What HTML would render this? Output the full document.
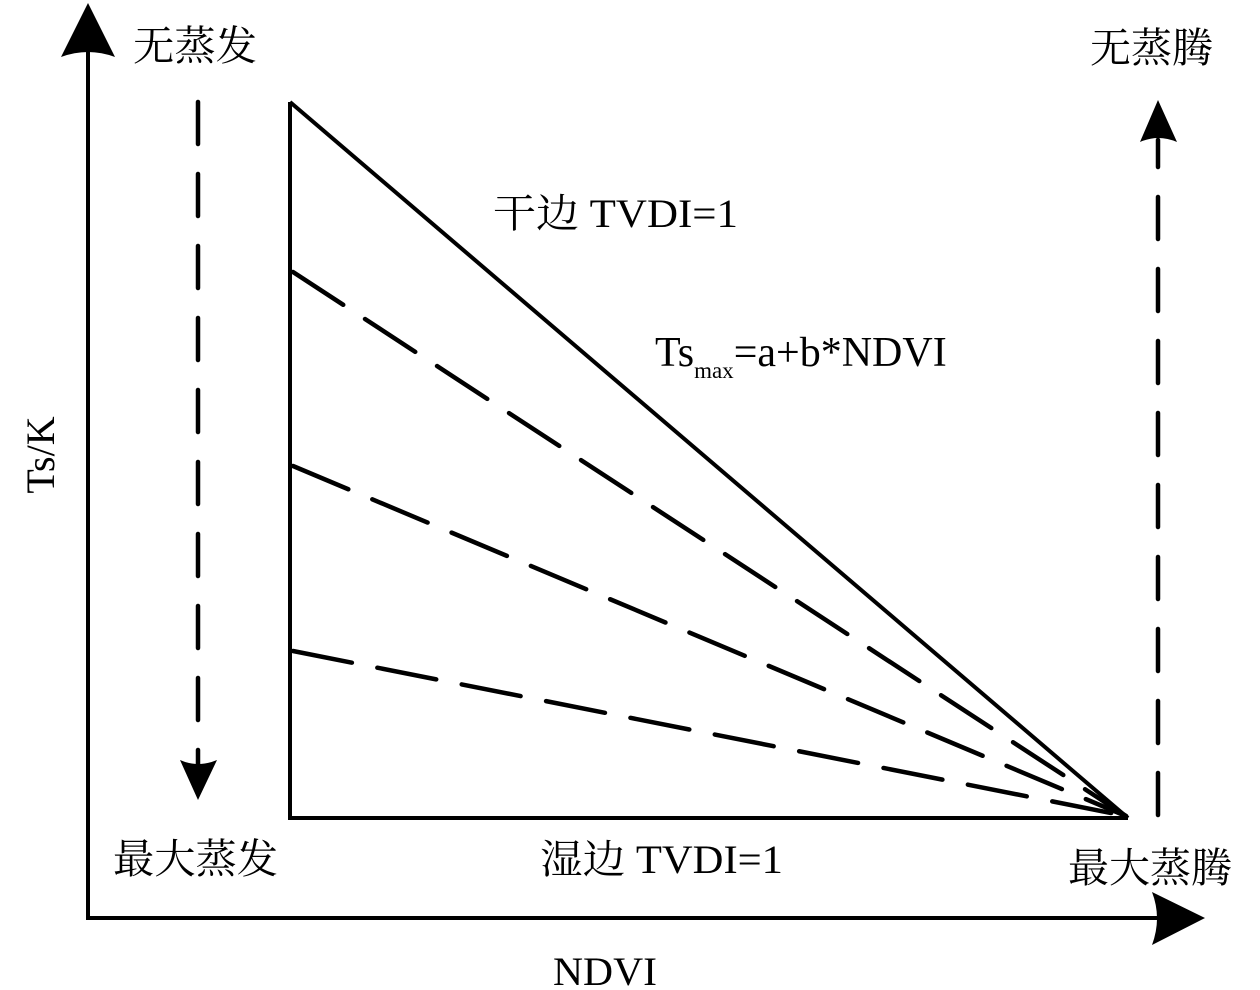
<!DOCTYPE html>
<html><head><meta charset="utf-8"><style>
html,body{margin:0;padding:0;background:#fff;}
svg{display:block;}
text{font-family:"Liberation Serif","Noto Serif CJK SC","Noto Sans CJK SC",serif;fill:#000;}
</style></head><body>
<svg width="1260" height="990" viewBox="0 0 1260 990" xmlns="http://www.w3.org/2000/svg">
<g stroke="#000" stroke-width="4" fill="none">
<line x1="88" y1="920" x2="88" y2="50"/>
<line x1="86" y1="918" x2="1160" y2="918"/>
<polyline points="290,102 290,818 1128,818"/>
<line x1="290" y1="102" x2="1128" y2="818"/>
<g stroke-dasharray="60,26" stroke-linecap="round" stroke-width="4.5">
<line x1="293" y1="272" x2="1126" y2="816"/>
<line x1="293" y1="466" x2="1126" y2="816"/>
<line x1="293" y1="651" x2="1126" y2="816"/>
<line x1="198" y1="102" x2="198" y2="765" stroke-dasharray="42,30"/>
<line x1="1158" y1="815" x2="1158" y2="140" stroke-dasharray="42,30"/>
</g>
</g>
<g fill="#000">
<path d="M88,3 L115,57 Q88,47 61,57 Z"/>
<path d="M1205,918 L1152,945 Q1162,918 1152,892 Z"/>
<path d="M198,800 L180,760 Q198,768 217,760 Z"/>
<path d="M1158,100 L1140,142 Q1158,134 1177,142 Z"/>
</g>
<text x="133" y="60" font-size="41" textLength="124" lengthAdjust="spacingAndGlyphs">无蒸发</text>
<text x="1090" y="62" font-size="41" textLength="123" lengthAdjust="spacingAndGlyphs">无蒸腾</text>
<text x="493" y="227" font-size="40" textLength="245" lengthAdjust="spacingAndGlyphs">干边 TVDI=1</text>
<text x="655" y="366" font-size="42">Ts<tspan font-size="23" dy="12">max</tspan><tspan dy="-12">=a+b*NDVI</tspan></text>
<text x="113" y="873" font-size="41" textLength="165" lengthAdjust="spacingAndGlyphs">最大蒸发</text>
<text x="540" y="873" font-size="40" textLength="243" lengthAdjust="spacingAndGlyphs">湿边 TVDI=1</text>
<text x="1068" y="882" font-size="41" textLength="164" lengthAdjust="spacingAndGlyphs">最大蒸腾</text>
<text x="553" y="985" font-size="40" textLength="104" lengthAdjust="spacingAndGlyphs">NDVI</text>
<text transform="translate(54,455) rotate(-90)" font-size="40" text-anchor="middle">Ts/K</text>
</svg>
</body></html>
